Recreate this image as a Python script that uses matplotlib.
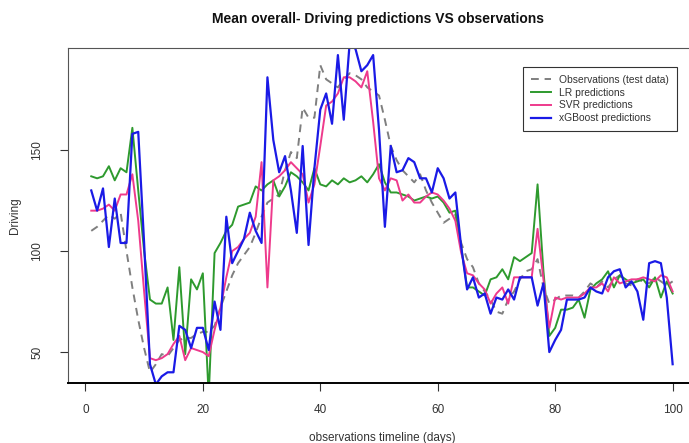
import numpy as np
import matplotlib
matplotlib.use("Agg")
import matplotlib.pyplot as plt

days = list(range(1, 101))

observations = [110, 112, 115, 118, 116, 119, 100, 82, 66, 52,
                40, 44, 49, 48, 52, 56, 57, 57, 59, 60,
                60, 63, 72, 80, 88, 94, 98, 102, 109, 117,
                124, 126, 128, 140, 149, 146, 171, 166, 166, 192,
                185, 183, 181, 185, 188, 187, 185, 181, 179, 177,
                165, 152, 145, 140, 137, 134, 138, 130, 124, 119,
                114, 116, 118, 104, 96, 92, 84, 80, 76, 70,
                69, 76, 80, 86, 90, 91, 96, 82, 74, 76,
                78, 78, 78, 77, 80, 84, 82, 85, 82, 86,
                88, 84, 83, 86, 85, 84, 87, 85, 83, 85]

lr_pred = [137, 136, 137, 142, 135, 141, 139, 161, 130, 100,
           76, 74, 74, 82, 56, 92, 49, 86, 81, 89,
           28, 99, 104, 110, 113, 122, 123, 124, 132, 130,
           133, 135, 127, 132, 139, 137, 134, 130, 141, 133,
           132, 135, 133, 136, 134, 135, 137, 134, 138, 143,
           134, 129, 129, 128, 127, 125, 126, 127, 126, 127,
           124, 119, 120, 102, 82, 82, 80, 78, 86, 87,
           91, 86, 97, 95, 97, 99, 133, 90, 58, 62,
           71, 71, 72, 76, 67, 81, 84, 86, 90, 82,
           88, 86, 84, 85, 86, 82, 87, 77, 85, 79]

svr_pred = [120, 120, 121, 123, 120, 128, 128, 138, 115, 80,
            47, 46, 47, 49, 54, 58, 46, 52, 51, 50,
            48, 61, 72, 87, 100, 102, 106, 109, 117, 144,
            82, 135, 137, 140, 144, 141, 138, 124, 133, 152,
            172, 174, 178, 186, 186, 184, 181, 189, 164, 136,
            130, 136, 135, 125, 128, 124, 124, 127, 129, 128,
            125, 121, 115, 99, 89, 88, 84, 81, 74, 79,
            82, 74, 87, 87, 87, 87, 111, 86, 62, 77,
            76, 77, 77, 77, 79, 82, 82, 84, 80, 87,
            84, 85, 86, 86, 87, 86, 85, 88, 87, 80]

xgb_pred = [130, 120, 131, 102, 126, 104, 104, 158, 159, 104,
            44, 34, 38, 40, 40, 63, 61, 52, 62, 62,
            51, 75, 61, 117, 94, 100, 106, 119, 110, 104,
            186, 155, 139, 147, 130, 109, 152, 103, 141, 170,
            178, 163, 197, 165, 203, 200, 189, 192, 197, 160,
            112, 152, 139, 140, 146, 144, 136, 136, 129, 141,
            136, 126, 129, 102, 81, 87, 77, 79, 69, 77,
            76, 81, 76, 87, 87, 87, 73, 84, 50, 56,
            61, 76, 76, 76, 77, 82, 80, 79, 87, 90,
            91, 82, 85, 80, 66, 94, 95, 94, 77, 44]

x_ticks = [0, 20, 40, 60, 80, 100]
y_ticks = [50, 100, 150]

plt.rcParams['font.family'] = ['Liberation Sans', 'DejaVu Sans']

fig = plt.figure(figsize=(6.89, 4.43), dpi=100)
ax = fig.add_axes([68/689, 1-383/443, 1-68/689 + 0.01, (383-48)/443])

ax.plot(days, observations, color='#7f7f7f', lw=1.4, ls=(0, (4, 3)), label='Observations (test data)')
ax.plot(days, lr_pred, color='#2e9a2e', lw=1.4, label='LR predictions')
ax.plot(days, svr_pred, color='#ee3a8c', lw=1.4, label='SVR predictions')
ax.plot(days, xgb_pred, color='#1a1ae6', lw=1.6, label='xGBoost predictions')

ax.set_xlim(-2.96, 103.96)
ax.set_ylim(34.7, 200.5)
ax.set_xticks(x_ticks)
ax.set_yticks(y_ticks)
ax.set_yticklabels([str(v) for v in y_ticks], rotation=90, va='center')
ax.tick_params(axis='x', length=6, pad=9, labelsize=8.5, colors='#333333', width=0.8)
ax.tick_params(axis='y', length=6, pad=12, labelsize=8.5, colors='#333333', width=0.8)

for s in ['left', 'top', 'right']:
    ax.spines[s].set_color('#555555')
    ax.spines[s].set_linewidth(0.8)
ax.spines['bottom'].set_color('black')
ax.spines['bottom'].set_linewidth(1.4)

ax.set_xlabel('observations timeline (days)', fontsize=8.5, color='#333333', labelpad=12)
ax.set_ylabel('Driving', fontsize=8.5, color='#333333', labelpad=7)
fig.text(378/689, 1-19/443, 'Mean overall- Driving predictions VS observations',
         ha='center', va='center', fontsize=10, fontweight='bold', color='#111111')

ax_w_px = ax.get_position().width * 689
leg = ax.legend(loc='upper left', bbox_to_anchor=((523-68)/ax_w_px, 1-(67-48)/335),
                fontsize=7.4, frameon=True, fancybox=False, borderpad=0.75,
                handlelength=2.0, handletextpad=0.8, labelspacing=0.28,
                borderaxespad=0.0, edgecolor='black')
leg.get_frame().set_linewidth(0.8)
for t in leg.get_texts():
    t.set_color('#333333')

fig.savefig('out.png', dpi=100)
